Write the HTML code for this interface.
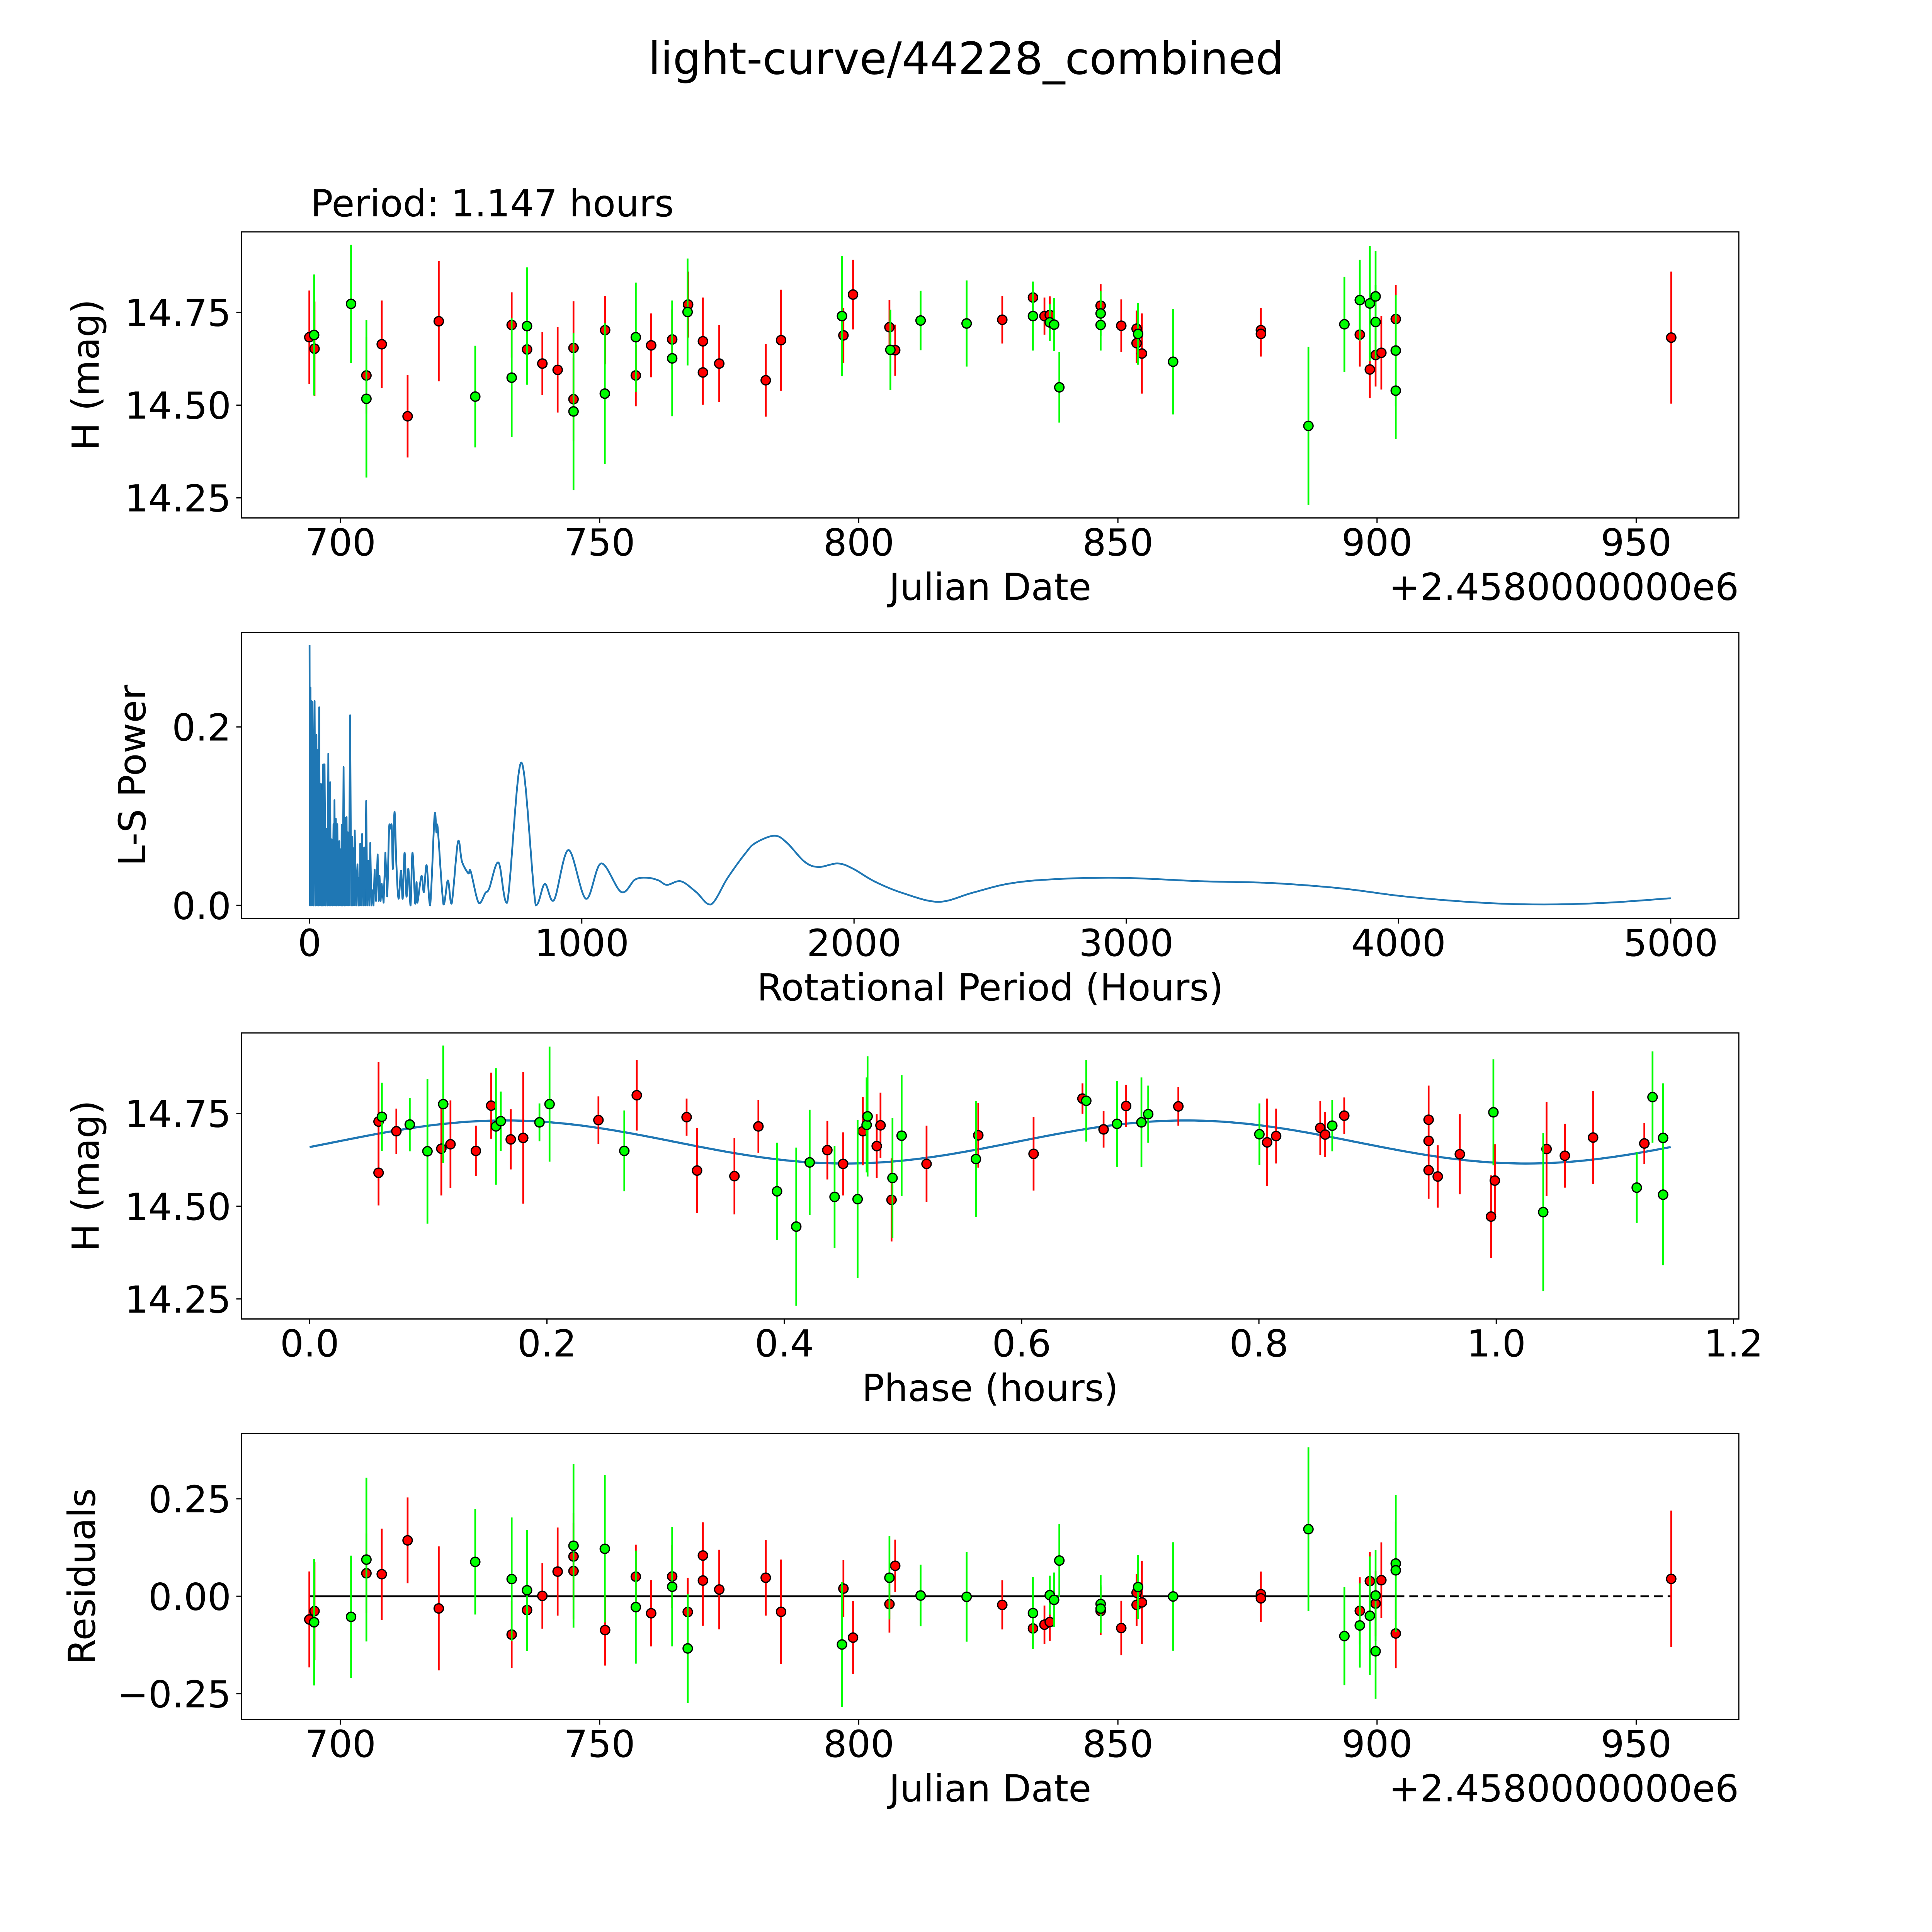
<!DOCTYPE html>
<html><head><meta charset="utf-8"><style>
html,body{margin:0;padding:0;background:#fff;overflow:hidden;width:100%;height:100%;}
svg{display:block;width:100vw;height:100vh;font-family:"DejaVu Sans","Liberation Sans",sans-serif;}
</style></head>
<body>
<svg id="fig" viewBox="0 0 5400 5400" preserveAspectRatio="xMinYMin meet" xmlns="http://www.w3.org/2000/svg">
<rect width="5400" height="5400" fill="#fff"/>
<text x="2700" y="207" font-size="124" text-anchor="middle">light-curve/44228_combined</text>
<text x="868" y="605" font-size="104">Period: 1.147 hours</text>
</svg>
<script>
// ---- Panel 1: light curve ----
const lcDays=[693.99,694.91,694.99,702.04,705.0,705.0,707.96,712.95,718.96,726.0,733.03,733.03,735.99,736.0,738.95,741.9,744.96,744.96,744.96,751.06,751.0,756.98,756.98,759.94,764.0,764.0,766.97,767.07,769.93,769.93,773.08,782.05,785.01,796.76,797.04,798.89,805.92,806.1,807.03,811.93,820.81,827.69,833.61,833.61,835.83,836.85,836.85,837.69,838.7,846.67,846.67,846.67,850.65,853.61,853.89,853.61,854.63,860.65,877.59,877.59,886.76,893.7,896.67,896.67,898.61,899.72,899.72,898.61,899.72,900.83,903.61,903.61,903.61,956.76];
const lcMag=[14.683,14.689,14.652,14.773,14.580,14.517,14.664,14.470,14.726,14.523,14.716,14.574,14.713,14.650,14.612,14.595,14.654,14.516,14.483,14.702,14.531,14.683,14.580,14.661,14.677,14.626,14.751,14.771,14.672,14.588,14.612,14.567,14.675,14.740,14.688,14.798,14.710,14.649,14.648,14.728,14.720,14.730,14.790,14.740,14.740,14.743,14.723,14.717,14.548,14.768,14.747,14.716,14.714,14.706,14.692,14.667,14.639,14.617,14.702,14.692,14.444,14.718,14.783,14.690,14.774,14.793,14.724,14.596,14.635,14.641,14.732,14.647,14.539,14.682];
const lcErr=[.126,.163,.127,.159,.103,.212,.118,.111,.162,.137,.088,.160,.158,.079,.085,.115,.126,.112,.212,.092,.190,.147,.083,.086,.081,.156,.144,.089,.118,.087,.104,.098,.136,.162,.074,.094,.073,.108,.069,.080,.116,.064,.042,.093,.050,.050,.050,.071,.095,.058,.060,.069,.071,.049,.083,.054,.108,.142,.060,.061,.213,.128,.109,.086,.155,.123,.100,.077,.085,.099,.092,.150,.130,.178];
const lcBand=["R","G","R","G","R","G","R","R","R","G","R","G","G","R","R","R","R","R","G","R","G","G","R","R","R","G","G","R","R","R","R","R","R","G","R","R","R","G","R","G","G","R","R","G","R","R","G","G","G","R","G","G","R","R","G","R","R","G","R","R","G","G","G","R","G","G","G","R","R","R","R","G","G","R"];
const lcXTicks=[700,750,800,850,900,950];
const lcYTicks=[14.25,14.50,14.75];
const lcYTickLabels=["14.25","14.50","14.75"];

// ---- Panel 2: Lomb-Scargle periodogram ----
const lsPeriod=[0,1.7,3.4,5,6.7,8.8,10.9,14.7,18.5,22,25.2,27.7,30.2,32.7,35.2,38.6,42,44,46,48,50,52.5,55,59,63,66,69,72,75.5,78,81,84.5,88,90,91.5,94,96.5,99,102,105.5,109,112,115,116.5,118,121.5,125,128,131,133.5,136,138,140,144.5,149,153,157,159,161,163.5,166,171,176,179.5,183,184.5,186,189.5,193,197,200.5,204,208,212,216,219.5,223,227,231.5,235,239,244,250,254,257,261,265,272,278.5,285,292,296,302,306,312,319,327,336,342,349,356,363,371,378,388,393,396,411,420,430,443,459,466,471,492,508,522,545,560,583,592,621,646,660,694,726,778,831,864,898,951,1015,1071,1145,1196,1242,1282,1313,1364,1420,1474,1536,1600,1638,1708,1754,1818,1869,1941,1997,2074,2177,2310,2433,2562,2715,2972,3279,3536,3792,4023,4305,4536,4767,5000];
const lsPower=[.2916,0,.244,0,.229,0,.228,0,.229,0,.191,0,.174,0,.222,0,.136,0,.128,0,.158,0,.158,0,.086,0,.170,0,.138,0,.074,0,.091,0,.118,0,.097,0,.091,0,.072,0,.063,0,.090,0,.155,0,.098,0,.099,0,.082,0,.213,0,.077,0,.064,0,.084,0,.046,0,.031,0,.069,0,.080,0,.065,0,.117,0,.050,0,.070,0,.017,0,.040,.005,.057,.005,.033,.005,.024,.003,.059,.01,.085,.086,.088,.041,.105,.045,.0075,.039,.0075,.059,.010,.041,0,.059,.002,.026,.003,.033,.015,.045,0,.100,.082,.086,.001,.028,.002,.071,.049,.036,.038,.003,.014,.019,.048,.003,.160,0,.024,.006,.062,.0075,.047,.015,.029,.031,.028,.023,.027,.015,.001,.031,.058,.070,.078,.070,.049,.043,.047,.041,.027,.014,.004,.014,.024,.029,.031,.027,.025,.019,.010,.003,.001,.003,.008];
const lsXTicks=[0,1000,2000,3000,4000,5000];
const lsYTicks=[0.0,0.2];
const lsYTickLabels=["0.0","0.2"];

// ---- Panel 3: phased light curve ----
const phPhase=[.0581,.0609,.0581,.0731,.0844,.0993,.1126,.1110,.1187,.1401,.1530,.1570,.1611,.1695,.1800,.1937,.2022,.2434,.2652,.2757,.3177,.3265,.3580,.3782,.3939,.4101,.4214,.4363,.4424,.4496,.4618,.4662,.4694,.4702,.4779,.4811,.4912,.4904,.4989,.5199,.5615,.5635,.6101,.6513,.6545,.6691,.6804,.6881,.7010,.7067,.7321,.8004,.8069,.8145,.8517,.8558,.8618,.8719,.9430,.9430,.9430,.9507,.9693,.9976,.9956,.9988,1.0396,1.0424,1.0578,1.0816,1.1184,1.1248,1.1317,1.1406,1.1406];
const phMag=[14.728,14.741,14.590,14.702,14.720,14.648,14.775,14.655,14.667,14.649,14.771,14.715,14.729,14.680,14.684,14.726,14.775,14.732,14.649,14.799,14.740,14.596,14.581,14.715,14.540,14.445,14.618,14.651,14.525,14.614,14.519,14.702,14.719,14.742,14.662,14.718,14.576,14.517,14.690,14.614,14.627,14.691,14.641,14.790,14.784,14.707,14.722,14.770,14.726,14.748,14.769,14.694,14.672,14.689,14.711,14.693,14.717,14.744,14.733,14.676,14.597,14.580,14.640,14.753,14.472,14.569,14.484,14.654,14.636,14.685,14.550,14.669,14.794,14.684,14.531];
const phErr=[.161,.092,.088,.061,.072,.195,.158,.126,.118,.068,.089,.157,.080,.081,.177,.051,.155,.064,.109,.095,.050,.114,.103,.071,.131,.213,.142,.079,.137,.085,.213,.092,.128,.162,.086,.088,.161,.112,.163,.103,.156,.087,.099,.041,.110,.049,.116,.057,.121,.077,.052,.083,.118,.074,.073,.061,.069,.049,.092,.055,.077,.084,.108,.143,.111,.098,.213,.127,.086,.125,.095,.055,.123,.147,.190];
const phBand=["R","G","R","R","G","G","G","R","R","R","R","G","G","R","R","G","G","R","G","R","R","R","R","R","G","G","G","R","G","R","G","R","G","G","R","R","G","R","G","R","G","R","R","R","G","R","G","R","G","G","R","G","R","R","R","R","G","R","R","R","R","R","R","G","R","R","G","R","R","R","G","R","G","G","G"];
const phXTicks=[0.0,0.2,0.4,0.6,0.8,1.0,1.2];
const phXTickLabels=["0.0","0.2","0.4","0.6","0.8","1.0","1.2"];
const modelMean=14.673, modelAmp=0.058, modelPeakPhase=0.165, modelHalfPeriod=0.5735, periodHours=1.147;

// ---- Panel 4: residuals ----
const resDays=[693.99,694.91,694.99,702.04,705.0,705.0,707.96,712.95,718.96,726.0,733.03,733.03,735.99,736.0,738.95,741.9,744.96,744.96,744.96,751.0,751.06,756.98,756.98,759.94,764.0,764.0,767.0,767.0,769.93,769.93,773.08,782.05,785.01,796.76,797.04,798.89,805.92,805.92,807.03,811.93,820.81,827.69,833.61,833.61,835.83,836.85,836.85,837.69,838.7,846.67,846.67,846.67,850.65,853.61,853.89,853.61,854.63,860.65,877.59,877.59,886.76,893.7,896.67,896.67,898.61,898.61,899.72,899.72,899.72,900.83,903.61,903.61,903.61,956.76];
const resVal=[-0.0595,-0.0667,-0.0379,-0.0527,0.0940,0.0590,0.0566,0.1434,-0.0312,0.0882,0.0441,-0.0983,0.0153,-0.0355,0.0010,0.0633,0.1295,0.1021,0.0647,0.1218,-0.0868,0.0503,-0.0278,-0.0436,0.0508,0.0245,-0.0403,-0.1338,0.1045,0.0403,0.0173,0.0475,-0.0398,-0.1237,0.0197,-0.1060,0.0475,-0.0201,0.0782,0.0019,-0.0014,-0.0221,-0.0432,-0.0825,-0.0729,-0.0662,0.0029,-0.0091,0.0916,-0.0197,-0.0316,-0.0379,-0.0815,-0.0221,0.0235,0.0091,-0.0158,-0.0005,0.0053,-0.0053,0.1721,-0.1021,-0.0374,-0.0748,0.0388,-0.0499,0.0019,-0.0187,-0.1410,0.0412,0.0839,0.0666,-0.0954,0.0446];
const resErr=[.123,.162,.126,.157,.210,.102,.117,.110,.159,.135,.158,.086,.155,.078,.084,.113,.210,.111,.124,.189,.091,.082,.145,.085,.081,.153,.088,.140,.085,.116,.102,.097,.134,.160,.073,.094,.107,.073,.067,.079,.115,.063,.092,.042,.049,.048,.050,.070,.094,.074,.060,.062,.070,.054,.082,.048,.107,.139,.058,.061,.210,.126,.086,.108,.075,.152,.117,.084,.122,.097,.176,.125,.089,.175];
const resBand=["R","G","R","G","G","R","R","R","R","G","G","R","G","R","R","R","G","R","R","G","R","R","G","R","R","G","R","G","R","R","R","R","R","G","R","R","G","R","R","G","G","R","G","R","R","R","G","G","G","G","G","R","R","R","G","R","R","G","R","R","G","G","R","G","R","G","G","R","G","R","G","G","R","R"];
const resYTicks=[-0.25,0.0,0.25];
const resYTickLabels=["\u22120.25","0.00","0.25"];
const solidLineEnd=903.61;

const NS="http://www.w3.org/2000/svg";
const svg=document.getElementById("fig");
const L=675,R=4860,H=799.6;
const tops=[648,1767.4,2887,4006.4];
const FS=104, TICK=14.6;
const COL={R:"#ff0000",G:"#00ff00"};

function mk(tag,attrs,parent){const e=document.createElementNS(NS,tag);for(const k in attrs)e.setAttribute(k,attrs[k]);(parent||svg).appendChild(e);return e;}
function scale(d0,d1,r0,r1){return v=>r0+(v-d0)/(d1-d0)*(r1-r0);}

function frame(i,xs,ys,xt,xtl,yt,ytl,xlabel,ylabel,ylabelX,name){
  const top=tops[i],bot=top+H;
  const g=mk("g",{});
  
  
  xt.forEach((v,k)=>{
    const x=xs(v);
    const t=mk("line",{x1:x,x2:x,y1:bot,y2:bot+TICK,stroke:"#000","stroke-width":3.3},g);
    
    
    const tx=mk("text",{x:x,y:bot+105,"font-size":FS,"text-anchor":"middle"},g);
    tx.textContent=xtl[k];
    
    
  });
  yt.forEach((v,k)=>{
    const y=ys(v);
    const t=mk("line",{x1:L-TICK,x2:L,y1:y,y2:y,stroke:"#000","stroke-width":3.3},g);
    
    
    const tx=mk("text",{x:L-29,y:y+38,"font-size":FS,"text-anchor":"end"},g);
    tx.textContent=ytl[k];
    
    
  });
  const xl=mk("text",{x:(L+R)/2,y:bot+229,"font-size":FS,"text-anchor":"middle"},g);
  xl.textContent=xlabel;
  
  
  const cy=top+H/2;
  const yl=mk("text",{x:ylabelX,y:cy,"font-size":FS,"text-anchor":"middle",transform:`rotate(-90 ${ylabelX} ${cy})`},g);
  yl.textContent=ylabel;
  
  
  return g;
}
function spine(i,name){
  const r=mk("rect",{x:L,y:tops[i],width:R-L,height:H,fill:"none",stroke:"#000","stroke-width":3.3});
  
  
}
function offsetText(i){
  const t=mk("text",{x:R,y:tops[i]+H+229,"font-size":FS,"text-anchor":"end"});
  t.textContent="+2.4580000000e6";
  
  
}
function errPoints(xs,ys,xv,yv,ev,bv,name){
  const g=mk("g",{});
  
  
  ["R","G"].forEach(b=>{
    xv.forEach((xd,k)=>{
      if(bv[k]!==b)return;
      const x=xs(xd);
      const ln=mk("line",{x1:x,x2:x,y1:ys(yv[k]+ev[k]),y2:ys(yv[k]-ev[k]),stroke:COL[b],"stroke-width":5},g);
      
      
    });
    xv.forEach((xd,k)=>{
      if(bv[k]!==b)return;
      const c=mk("circle",{cx:xs(xd),cy:ys(yv[k]),r:13,fill:COL[b],stroke:"#000","stroke-width":3.5},g);
      
      
    });
  });
}

// Panel 1
{
  const xs=scale(680.9,969.8,L,R), ys=scale(14.196,14.967,tops[0]+H,tops[0]);
  frame(0,xs,ys,lcXTicks,lcXTicks.map(String),lcYTicks,lcYTickLabels,"Julian Date","H (mag)",276,"light-curve");
  offsetText(0);
  errPoints(xs,ys,lcDays,lcMag,lcErr,lcBand,"light-curve-points");
  spine(0,"light-curve");
}
// Panel 2
{
  const xs=scale(-250,5250,L,R), ys=scale(-0.0146,0.306,tops[1]+H,tops[1]);
  frame(1,xs,ys,lsXTicks,lsXTicks.map(String),lsYTicks,lsYTickLabels,"Rotational Period (Hours)","L-S Power",406,"periodogram");
  const y0=ys(0);
  const P=lsPeriod.map((p,k)=>[xs(p),ys(lsPower[k])]);
  let d="M"+P[0][0]+","+P[0][1];
  for(let k=1;k<P.length;k++){
    if(lsPeriod[k]<290){d+="L"+P[k][0].toFixed(1)+","+P[k][1].toFixed(1);continue;}
    const p0=P[k-2]||P[k-1],p1=P[k-1],p2=P[k],p3=P[k+1]||P[k];
    const c1=[p1[0]+(p2[0]-p0[0])/6,Math.min(y0,p1[1]+(p2[1]-p0[1])/6)];
    const c2=[p2[0]-(p3[0]-p1[0])/6,Math.min(y0,p2[1]-(p3[1]-p1[1])/6)];
    d+="C"+c1[0].toFixed(1)+","+c1[1].toFixed(1)+" "+c2[0].toFixed(1)+","+c2[1].toFixed(1)+" "+p2[0].toFixed(1)+","+p2[1].toFixed(1);
  }
  const pl=mk("path",{d:d,fill:"none",stroke:"#1f77b4","stroke-width":5,"stroke-linejoin":"round"});
  
  
  spine(1,"periodogram");
}
// Panel 3
{
  const xs=scale(-0.0574,1.2044,L,R), ys=scale(14.196,14.967,tops[2]+H,tops[2]);
  frame(2,xs,ys,phXTicks,phXTickLabels,lcYTicks,lcYTickLabels,"Phase (hours)","H (mag)",276,"phased");
  let d="";
  for(let k=0;k<=300;k++){
    const ph=periodHours*k/300;
    const m=modelMean+modelAmp*Math.cos(2*Math.PI*(ph-modelPeakPhase)/modelHalfPeriod);
    d+=(k?"L":"M")+xs(ph).toFixed(1)+","+ys(m).toFixed(1);
  }
  const ml=mk("path",{d:d,fill:"none",stroke:"#1f77b4","stroke-width":6});
  
  
  errPoints(xs,ys,phPhase,phMag,phErr,phBand,"phased-points");
  spine(2,"phased");
}
// Panel 4
{
  const xs=scale(680.9,969.8,L,R), ys=scale(-0.316,0.4177,tops[3]+H,tops[3]);
  frame(3,xs,ys,lcXTicks,lcXTicks.map(String),resYTicks,resYTickLabels,"Julian Date","Residuals",265,"residuals");
  offsetText(3);
  const first=Math.min(...resDays), last=Math.max(...resDays);
  const z1=mk("line",{x1:xs(first),x2:xs(solidLineEnd),y1:ys(0),y2:ys(0),stroke:"#000","stroke-width":5});
  
  
  const z2=mk("line",{x1:xs(solidLineEnd),x2:xs(last),y1:ys(0),y2:ys(0),stroke:"#000","stroke-width":5,"stroke-dasharray":"24 14"});
  
  
  errPoints(xs,ys,resDays,resVal,resErr,resBand,"residual-points");
  spine(3,"residuals");
}
</script>
</body></html>
